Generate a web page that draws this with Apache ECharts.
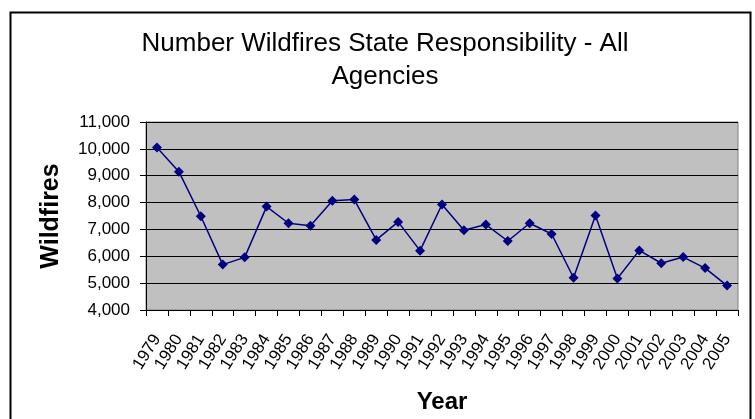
<!DOCTYPE html>
<html>
<head>
<meta charset="utf-8">
<script src="https://cdn.jsdelivr.net/npm/echarts@6/dist/echarts.min.js"></script>
<style>
html,body{margin:0;padding:0;background:#fff;}
#chart{width:755px;height:419px;}
</style>
</head>
<body>
<div id="chart"></div>
<script>
var years = ['1979','1980','1981','1982','1983','1984','1985','1986','1987','1988','1989','1990','1991','1992','1993','1994','1995','1996','1997','1998','1999','2000','2001','2002','2003','2004','2005'];
var wildfires = [10050,9150,7490,5690,5960,7850,7230,7140,8070,8110,6610,7280,6210,7930,6970,7180,6570,7230,6830,5200,7520,5170,6220,5740,5970,5560,4910];
var titleText = 'Number Wildfires State Responsibility - All\nAgencies';
var yAxisName = 'Wildfires';
var xAxisName = 'Year';

var chart = echarts.init(document.getElementById('chart'), null, {renderer:'canvas'});
var font = 'Arial, "Liberation Sans", sans-serif';
chart.setOption({
  animation:false,
  backgroundColor:'#ffffff',
  textStyle:{fontFamily:font},
  title:{
    text:titleText,
    left:380, top:22, textAlign:'center',
    textStyle:{fontFamily:font, fontSize:26, fontWeight:'normal', color:'#000', lineHeight:33}
  },
  graphic:[{
    type:'rect', left:8, top:10, silent:true,
    shape:{width:740, height:430},
    style:{fill:'none', stroke:'#000', lineWidth:2}
  }],
  grid:{left:146, right:17, top:122, bottom:109, outerBoundsMode:'none', containLabel:false,
    show:true, backgroundColor:'#C0C0C0', borderColor:'#808080', borderWidth:1},
  xAxis:{
    type:'category', data:years, boundaryGap:true,
    name:xAxisName, nameLocation:'middle', nameGap:80,
    nameTextStyle:{fontFamily:font, fontSize:24, fontWeight:'bold', color:'#000'},
    axisLine:{lineStyle:{color:'#000', width:1}},
    axisTick:{show:true, length:6, alignWithLabel:false, interval:0, lineStyle:{color:'#000'}},
    axisLabel:{interval:0, rotate:58, margin:26, fontSize:17, color:'#000', fontFamily:font},
    splitLine:{show:false}
  },
  yAxis:{
    type:'value', min:4000, max:11000, interval:1000,
    name:yAxisName, nameLocation:'middle', nameGap:82, nameRotate:90,
    nameTextStyle:{fontFamily:font, fontSize:25, fontWeight:'bold', color:'#000'},
    axisLine:{show:true, lineStyle:{color:'#000', width:1}},
    axisTick:{show:true, length:6, lineStyle:{color:'#000'}},
    axisLabel:{margin:16, fontSize:17, color:'#000', fontFamily:font,
      formatter:function(v){return v.toString().replace(/\B(?=(\d{3})+(?!\d))/g, ',');}},
    splitLine:{show:true, lineStyle:{color:'#000', width:1}}
  },
  series:[{
    type:'line', data:wildfires,
    symbol:'diamond', symbolSize:10, showAllSymbol:true,
    lineStyle:{color:'#000080', width:1.5},
    itemStyle:{color:'#000080'}
  }]
});
</script>
</body>
</html>
